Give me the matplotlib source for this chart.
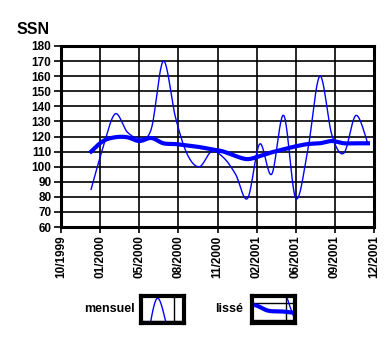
import numpy as np
import matplotlib
matplotlib.use("Agg")
import matplotlib.pyplot as plt

plt.rcParams['font.family'] = ['Liberation Sans', 'DejaVu Sans']

# ---- data ----
mensuel = [85, 113, 135, 123, 119, 125, 170, 133, 108, 100, 110, 106,
           95, 79, 115, 95, 134, 79, 111, 160, 121, 109, 134, 115]
lisse = [110, 117, 119.5, 119.5, 117, 119, 115.5, 115, 114, 113, 111.5, 110,
         107, 105, 107, 109.5, 111.5, 113.5, 115, 115.5, 117, 115.5, 115.5, 115.5]
first_month = 2.5            # months after axis start (10/1999)
tick_labels = ['10/1999', '01/2000', '05/2000', '08/2000', '11/2000',
               '02/2001', '06/2001', '09/2001', '12/2001']
yticks = list(range(60, 181, 10))
series_names = ['mensuel', 'lissé']

x = first_month + np.arange(len(mensuel))
xmax = 26.0
xticks = np.linspace(0, xmax, len(tick_labels))


def smooth(xs, ys, n=24):
    P = np.column_stack([xs, ys]).astype(float)
    out = []
    for i in range(len(P) - 1):
        p0 = P[max(i - 1, 0)]
        p1 = P[i]
        p2 = P[i + 1]
        p3 = P[min(i + 2, len(P) - 1)]
        c1 = p1 + (p2 - p0) / 6.0
        c2 = p2 - (p3 - p1) / 6.0
        t = np.linspace(0, 1, n)[:, None]
        seg = ((1 - t) ** 3) * p1 + 3 * ((1 - t) ** 2) * t * c1 + 3 * (1 - t) * t ** 2 * c2 + t ** 3 * p2
        out.append(seg if i == 0 else seg[1:])
    S = np.vstack(out)
    return S[:, 0], S[:, 1]


W, H = 389, 359
fig = plt.figure(figsize=(W / 100, H / 100), dpi=100)
ax = fig.add_axes([61 / W, (H - 227) / H, 313 / W, 181 / H])

sx, sy = smooth(x, mensuel)
lx, ly = smooth(x, lisse)
ax.plot(sx, sy, color='#0000ff', lw=1.0, zorder=3)
ax.plot(lx, ly, color='#0000ff', lw=3.0, zorder=4)

ax.set_xticks(xticks)
ax.set_xticklabels(tick_labels, rotation=90, fontsize=8.5, fontweight='bold')
ax.set_yticks(yticks)
ax.set_yticklabels([str(v) for v in yticks], fontsize=8.5, fontweight='bold')
ax.set_xlim(0, xmax)
ax.set_ylim(60, 180)
ax.grid(True, color='black', lw=1.2)
ax.set_axisbelow(True)
for sp in ax.spines.values():
    sp.set_linewidth(2.2)
ax.tick_params(axis='y', direction='out', length=5, width=1.2, pad=2)
ax.tick_params(axis='x', direction='out', length=4, width=1.2, pad=2)

fig.text(17 / W, 1 - 30 / H, 'SSN', fontsize=11.5, fontweight='bold', va='center', ha='left')

# ---- legend keys: small views of the chart ----
def key_box(left_px, xlim, ylim, kyticks, label, label_right_px):
    kax = fig.add_axes([left_px / W, (H - 323) / H, 43 / W, 27 / H])
    kax.plot(sx, sy, color='#0000ff', lw=1.0)
    kax.plot(lx, ly, color='#0000ff', lw=3.0)
    kax.set_xticks(xticks)
    kax.set_yticks(kyticks)
    kax.set_xlim(*xlim)
    kax.set_ylim(*ylim)
    kax.grid(True, color='black', lw=1.0)
    kax.set_axisbelow(True)
    kax.tick_params(length=0, labelbottom=False, labelleft=False)
    for sp in kax.spines.values():
        sp.set_linewidth(3)
    fig.text(label_right_px / W, 1 - 309 / H, label, fontsize=9, fontweight='bold',
             ha='right', va='center')

key_box(141, (7.25, 10.54), (148, 172), [150], series_names[0], 135)
key_box(252, (7.38, 10.38), (108, 124.4), yticks, series_names[1], 243)

fig.savefig('out.png', dpi=100)
